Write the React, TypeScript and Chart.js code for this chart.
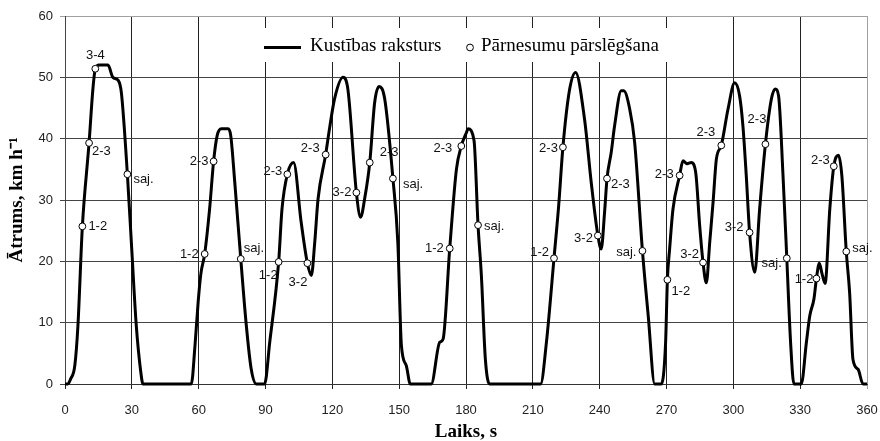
import { useEffect, useRef } from 'react';
import { Chart, registerables } from 'chart.js';

Chart.register(...registerables);

// Driving cycle: time (s) and speed (km/h)
const timeSec = [
  0, 1.3, 2.5, 4.4, 5.8, 7.8, 10.8, 12.5, 13.6, 15.3, 19.3, 21.5, 23.9, 25.3, 28, 29.8, 32, 34, 35,
  56.7, 58.3, 59.8, 61, 62.7, 64.9, 66.7, 68.3, 70.2, 73.2, 74.4, 76.2, 78.9, 81.4, 83.6, 85.9,
  89.6, 91.9, 95.9, 97.4, 99.8, 102.6, 106, 108.8, 110.6, 112.1, 113.6, 117, 118.8, 121, 124.8,
  127, 130.8, 132.7, 134.5, 136.8, 139, 141, 143.5, 147.2, 149.4, 151, 153.2, 155,
  164.4, 168.2, 169.7, 172.7, 175.7, 177.9, 180.2, 180.9, 183.6, 185.4, 186.9, 188.7, 190.6,
  213.5, 216.1, 219.5, 221.6, 223.5, 226.5, 229.2, 233.2, 236.2, 239.2, 240.7, 242.2, 243.3,
  245.2, 246.7, 249.7, 250.8, 253.5, 255.7, 259.2, 261.8, 264.7, 267.7, 269.6, 270.4, 271.4,
  272.9, 275.9, 277.4, 279.2, 281.1, 283.1, 284.9, 286.4, 287.9, 289.4, 290.9, 292.4, 294.6,
  297.6, 300.6, 302.8, 304.3, 305.8, 307.3, 309.6, 311.8, 314.4, 317.1, 318.8, 320.3, 322.3,
  324, 325.7, 327.2, 330.5, 332.8, 334.3, 336.2, 337.3, 338.6, 339.8, 341.2, 343.3, 345.1,
  347.2, 348.7, 350.7, 352.2, 353.7, 356, 358.2, 360,
];
const speedKmh = [
  0, 0, 0.8, 3, 9.5, 25.7, 39.3, 48, 51.4, 52, 52, 50, 49.5, 47.5, 34.2, 23, 9.5, 2, 0,
  0, 6, 13.5, 18, 21.2, 28.5, 36.3, 40.5, 41.6, 41.6, 40.5, 32.9, 20.4, 9.5, 2.4, 0,
  0, 6.8, 19.9, 28.5, 34.2, 36.1, 26.4, 19.7, 17.7, 23.1, 30.2, 37.4, 41.8, 46.5, 50,
  48, 31.2, 27.2, 30.2, 36.1, 45.9, 48.5, 46.5, 33.5, 23.1, 6.3, 3, 0,
  0, 6.8, 7.3, 22.1, 35, 38.8, 41, 41.6, 39.7, 25.9, 17.7, 4, 0,
  0, 6.8, 20.5, 29.1, 38.6, 48, 50.8, 43.2, 32.9, 24.2, 22, 28, 33.5,
  37.8, 42.1, 47.8, 47.8, 44.8, 39.4, 21.7, 11.1, 0, 0, 6.8, 17, 22,
  28.5, 34, 36.4, 35.9, 36.1, 34.5, 25.8, 19.8, 16.5, 23.1, 29.6, 36.7, 38.9,
  44.8, 49.1, 47, 42.1, 34, 24.7, 18.2, 28.5, 39.1, 46.5, 48.1, 47, 34,
  20.5, 6.8, 0, 0, 6.8, 11.1, 13.9, 17.2, 19.7, 18, 16.4, 28.5, 35.5,
  37.3, 34, 21.6, 14.9, 4, 2.4, 0, 0,
];

// Gear shift moments
const shiftTimes = [
  7.8, 10.8, 13.6, 28, 62.7, 66.7, 78.9, 95.9, 99.8, 108.8, 117, 130.8, 136.8, 147.2, 172.7,
  177.9, 185.4, 219.5, 223.5, 239.2, 243.3, 259.2, 270.4, 275.9, 286.4, 294.6, 307.3, 314.4,
  324, 337.3, 345.1, 350.7,
];
const shiftSpeeds = [
  25.7, 39.3, 51.4, 34.2, 21.2, 36.3, 20.4, 19.9, 34.2, 19.7, 37.4, 31.2, 36.1, 33.5, 22.1,
  38.8, 25.9, 20.5, 38.6, 24.2, 33.5, 21.7, 17, 34, 19.8, 38.9, 24.7, 39.1,
  20.5, 17.2, 35.5, 21.6,
];
const shiftNames = [
  '1-2', '2-3', '3-4', 'saj.', '1-2', '2-3', 'saj.', '1-2', '2-3', '3-2', '2-3', '3-2', '2-3', 'saj.', '1-2',
  '2-3', 'saj.', '1-2', '2-3', '3-2', '2-3', 'saj.', '1-2', '2-3', '3-2', '2-3', '3-2', '2-3',
  'saj.', '1-2', '2-3', 'saj.',
];

const xTickValues = [0, 30, 60, 90, 120, 150, 180, 210, 240, 270, 300, 330, 360];
const yTickValues = [0, 10, 20, 30, 40, 50, 60];

const lineSeriesName = 'Kustības raksturs';
const pointSeriesName = 'Pārnesumu pārslēgšana';
const xTitle = 'Laiks, s';
const yTitle = 'Ātrums, km h⁻¹';

const SERIF = '"Liberation Serif", "Times New Roman", serif';
const SANS = '"Liberation Sans", Arial, sans-serif';

// Where each shift label sits relative to its marker: [textAlign, dx, dy]
const labelPlacement: [CanvasTextAlign, number, number][] = [
  ['left', 6, 0], ['left', 3, 8], ['center', 0, -13], ['left', 6, 5],
  ['right', -6, 0], ['right', -5, 0], ['left', 3, -10], ['right', -1, 13],
  ['right', -5, -3], ['right', 0, 19], ['right', -6, -6], ['right', -5, 0],
  ['left', 10, -10], ['left', 10, 6], ['right', -6, 0], ['right', -9, 2],
  ['left', 6, 1], ['right', -5, -6], ['right', -5, 1], ['right', -5, 3],
  ['left', 4, 6], ['right', -6, 2], ['left', 4, 12], ['right', -6, -1],
  ['right', -4, -8], ['right', -6, -13], ['right', -6, -5], ['right', 1, -25],
  ['right', -5, 5], ['right', -3, 1], ['right', -4, -6], ['left', 6, -3],
];

const overlayPlugin = {
  id: 'overlay',
  beforeDatasetsDraw(chart: any) {
    const ctx: CanvasRenderingContext2D = chart.ctx;
    ctx.save();
    // legend panel
    ctx.fillStyle = '#ffffff';
    ctx.fillRect(256, 28, 414, 34);
    ctx.strokeStyle = '#000';
    ctx.lineWidth = 3;
    ctx.beginPath();
    ctx.moveTo(264, 47.5);
    ctx.lineTo(301, 47.5);
    ctx.stroke();
    ctx.font = `19px ${SERIF}`;
    ctx.fillStyle = '#000';
    ctx.textBaseline = 'middle';
    ctx.textAlign = 'left';
    ctx.fillText(lineSeriesName, 310, 46.5);
    ctx.beginPath();
    ctx.arc(470, 47.5, 3.4, 0, Math.PI * 2);
    ctx.fillStyle = '#fff';
    ctx.fill();
    ctx.lineWidth = 1;
    ctx.stroke();
    ctx.fillStyle = '#000';
    ctx.fillText(pointSeriesName, 481, 46.5);
    ctx.restore();
  },
  afterDatasetsDraw(chart: any) {
    const ctx: CanvasRenderingContext2D = chart.ctx;
    const xs = chart.scales.x;
    const ys = chart.scales.y;
    ctx.save();
    ctx.font = `13px ${SANS}`;
    ctx.fillStyle = '#111';
    ctx.textBaseline = 'middle';
    shiftNames.forEach((name, i) => {
      const [align, dx, dy] = labelPlacement[i];
      ctx.textAlign = align;
      ctx.fillText(name, xs.getPixelForValue(shiftTimes[i]) + dx, ys.getPixelForValue(shiftSpeeds[i]) + dy);
    });
    ctx.restore();
  },
};

export default function App() {
  const canvasRef = useRef<HTMLCanvasElement | null>(null);

  useEffect(() => {
    const canvas = canvasRef.current;
    if (!canvas) return;
    const chart = new Chart(canvas, {
      type: 'line',
      data: {
        datasets: [
          {
            label: pointSeriesName,
            data: shiftTimes.map((t, i) => ({ x: t, y: shiftSpeeds[i] })),
            showLine: false,
            pointRadius: 3.4,
            pointBackgroundColor: '#ffffff',
            pointBorderColor: '#000000',
            pointBorderWidth: 1,
            clip: false,
          },
          {
            label: lineSeriesName,
            data: timeSec.map((t, i) => ({ x: t, y: speedKmh[i] })),
            borderColor: '#000000',
            borderWidth: 3,
            pointRadius: 0,
            cubicInterpolationMode: 'monotone',
            clip: false,
          },
        ],
      },
      plugins: [overlayPlugin],
      options: {
        responsive: false,
        animation: false,
        devicePixelRatio: 1,
        layout: { padding: { left: 0, right: 13, top: 16, bottom: 0 } },
        plugins: {
          legend: { display: false },
          tooltip: { enabled: false },
        },
        scales: {
          x: {
            type: 'linear',
            min: 0,
            max: 360,
            afterBuildTicks: (scale: any) => {
              scale.ticks = xTickValues.map((v) => ({ value: v }));
            },
            afterFit: (scale: any) => {
              scale.height = 57;
              scale.paddingLeft = 4;
              scale.paddingRight = 11;
            },
            grid: {
              color: (c: any) => (c.tick && c.tick.value === 360 ? '#a0a0a0' : '#222'),
              lineWidth: 1,
              tickLength: 5,
            },
            border: { color: '#333', width: 1 },
            ticks: {
              color: '#222',
              font: { family: SANS, size: 13 },
              padding: 14,
              maxRotation: 0,
              autoSkip: false,
            },
            title: {
              display: true,
              text: xTitle,
              color: '#000',
              font: { family: SERIF, size: 19, weight: 'bold', lineHeight: 1 },
              padding: { top: 0, bottom: -1 },
            },
          },
          y: {
            type: 'linear',
            min: 0,
            max: 60,
            afterBuildTicks: (scale: any) => {
              scale.ticks = yTickValues.map((v) => ({ value: v }));
            },
            afterFit: (scale: any) => {
              scale.width = 65;
            },
            grid: {
              color: (c: any) => (c.tick && c.tick.value === 60 ? '#a0a0a0' : '#444'),
              lineWidth: 1,
              tickLength: 5,
            },
            border: { color: '#444', width: 1 },
            ticks: {
              color: '#222',
              font: { family: SANS, size: 13 },
              padding: 7,
              autoSkip: false,
            },
            title: {
              display: true,
              text: yTitle,
              color: '#000',
              font: { family: SERIF, size: 19, weight: 'bold', lineHeight: 1 },
              padding: { top: 8, bottom: 0 },
            },
          },
        },
      },
    } as any);
    return () => chart.destroy();
  }, []);

  return (
    <div style={{ position: 'absolute', left: 0, top: 0, width: 880, height: 441, background: '#fff' }}>
      <canvas ref={canvasRef} width={880} height={441} style={{ display: 'block' }} />
    </div>
  );
}
